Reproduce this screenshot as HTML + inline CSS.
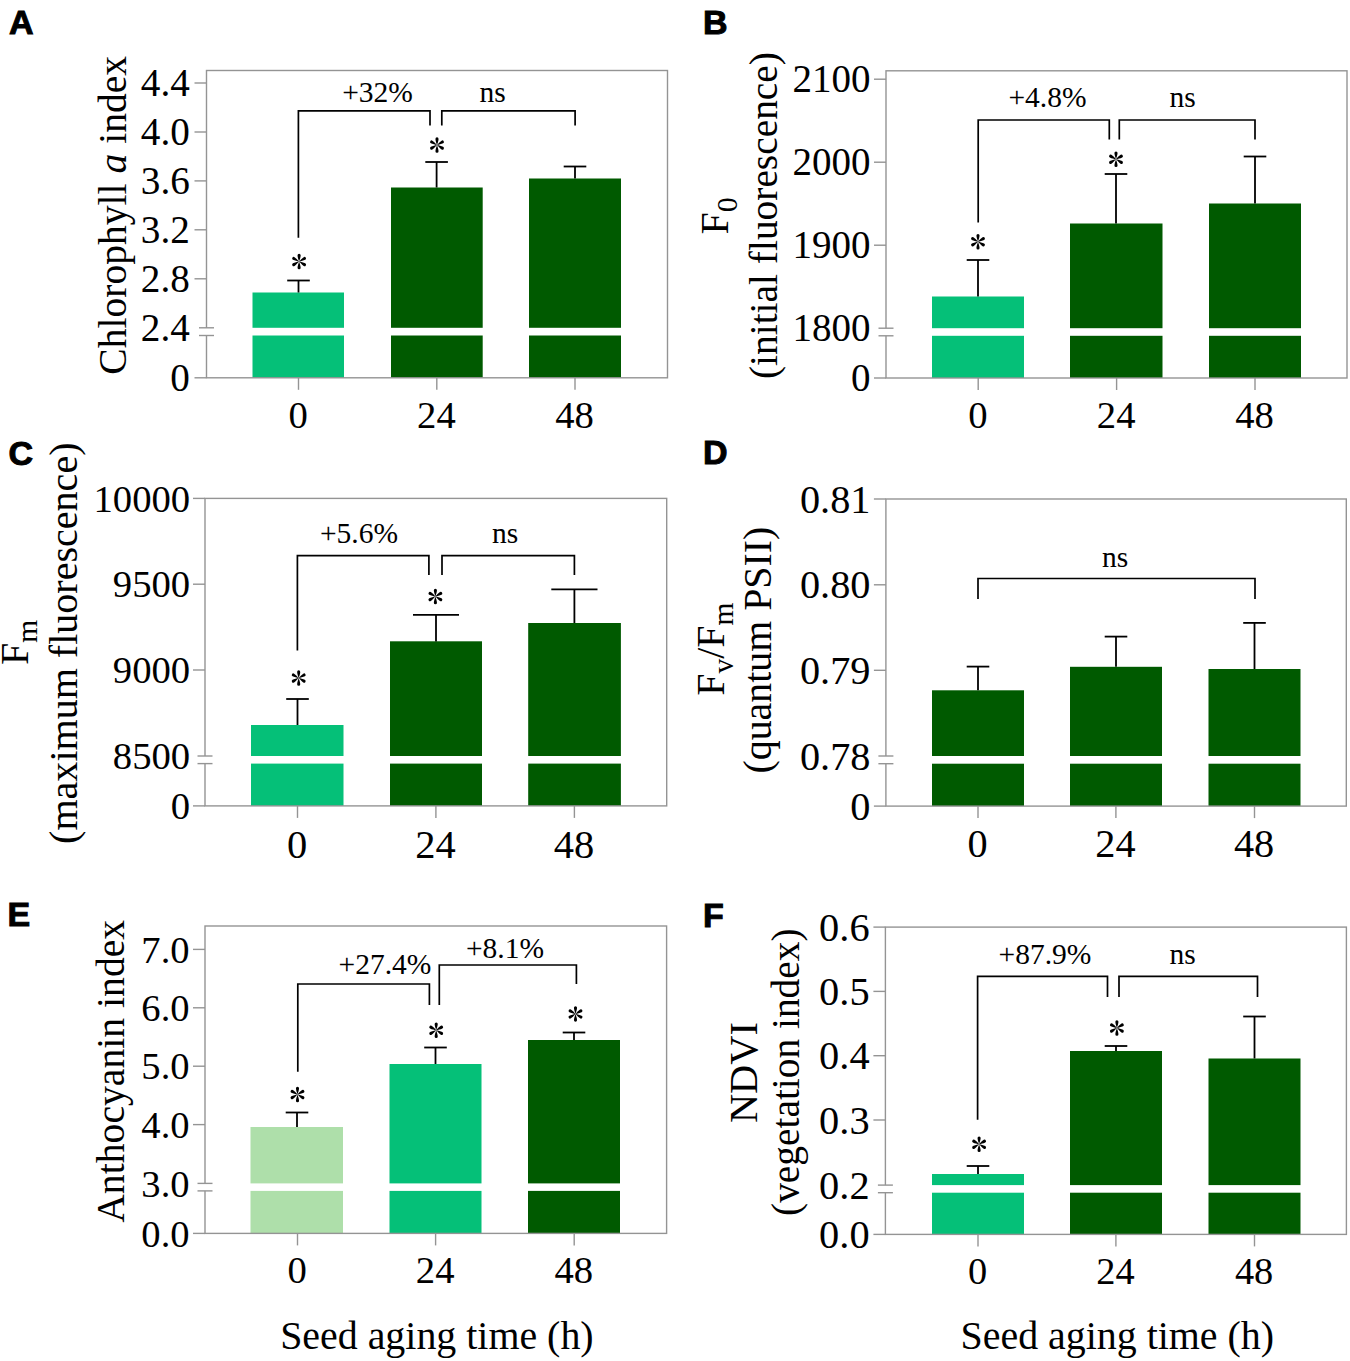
<!DOCTYPE html>
<html><head><meta charset="utf-8"><style>
html,body{margin:0;padding:0;background:#fff;}
svg{display:block;}
</style></head><body>
<svg width="1350" height="1361" viewBox="0 0 1350 1361">
<rect width="1350" height="1361" fill="#fff"/>
<rect x="252.5" y="292.5" width="91.5" height="85.30000000000001" fill="#05c078"/>
<rect x="391" y="187.5" width="91.69999999999999" height="190.3" fill="#005a00"/>
<rect x="529" y="178.5" width="92" height="199.3" fill="#005a00"/>
<rect x="206.5" y="70.5" width="461.0" height="307.3" fill="none" stroke="#949494" stroke-width="1.4"/>
<rect x="203.5" y="327.8" width="418.5" height="7.699999999999989" fill="#fff"/>
<line x1="199.0" y1="327.8" x2="214.0" y2="327.8" stroke="#949494" stroke-width="1.4"/>
<line x1="199.0" y1="335.5" x2="214.0" y2="335.5" stroke="#949494" stroke-width="1.4"/>
<line x1="194.5" y1="83" x2="206.5" y2="83" stroke="#949494" stroke-width="1.4"/>
<text x="189.8" y="96.31" font-size="39.2" text-anchor="end" font-family='"Liberation Serif", serif' >4.4</text>
<line x1="194.5" y1="132" x2="206.5" y2="132" stroke="#949494" stroke-width="1.4"/>
<text x="189.8" y="145.31" font-size="39.2" text-anchor="end" font-family='"Liberation Serif", serif' >4.0</text>
<line x1="194.5" y1="180.9" x2="206.5" y2="180.9" stroke="#949494" stroke-width="1.4"/>
<text x="189.8" y="194.21" font-size="39.2" text-anchor="end" font-family='"Liberation Serif", serif' >3.6</text>
<line x1="194.5" y1="229.8" x2="206.5" y2="229.8" stroke="#949494" stroke-width="1.4"/>
<text x="189.8" y="243.11" font-size="39.2" text-anchor="end" font-family='"Liberation Serif", serif' >3.2</text>
<line x1="194.5" y1="278.8" x2="206.5" y2="278.8" stroke="#949494" stroke-width="1.4"/>
<text x="189.8" y="292.11" font-size="39.2" text-anchor="end" font-family='"Liberation Serif", serif' >2.8</text>
<text x="189.8" y="341.11" font-size="39.2" text-anchor="end" font-family='"Liberation Serif", serif' >2.4</text>
<line x1="194.5" y1="377.8" x2="206.5" y2="377.8" stroke="#949494" stroke-width="1.4"/>
<text x="189.8" y="391.11" font-size="39.2" text-anchor="end" font-family='"Liberation Serif", serif' >0</text>
<line x1="298.5" y1="377.8" x2="298.5" y2="389.8" stroke="#949494" stroke-width="1.4"/>
<text x="298.1" y="427.6" font-size="38.7" text-anchor="middle" font-family='"Liberation Serif", serif' >0</text>
<line x1="436.8" y1="377.8" x2="436.8" y2="389.8" stroke="#949494" stroke-width="1.4"/>
<text x="436.4" y="427.6" font-size="38.7" text-anchor="middle" font-family='"Liberation Serif", serif' >24</text>
<line x1="575" y1="377.8" x2="575" y2="389.8" stroke="#949494" stroke-width="1.4"/>
<text x="574.6" y="427.6" font-size="38.7" text-anchor="middle" font-family='"Liberation Serif", serif' >48</text>
<line x1="298.5" y1="280.5" x2="298.5" y2="292.5" stroke="#000" stroke-width="1.8"/>
<line x1="287.2" y1="280.5" x2="309.8" y2="280.5" stroke="#000" stroke-width="1.8"/>
<line x1="436.6" y1="162" x2="436.6" y2="187.5" stroke="#000" stroke-width="1.8"/>
<line x1="425.3" y1="162" x2="447.90000000000003" y2="162" stroke="#000" stroke-width="1.8"/>
<line x1="575" y1="166.5" x2="575" y2="178.5" stroke="#000" stroke-width="1.8"/>
<line x1="563.7" y1="166.5" x2="586.3" y2="166.5" stroke="#000" stroke-width="1.8"/>
<g transform="translate(299.1,261.6)" fill="#000"><path d="M0,0 C-0.45,-1.8 -1.55,-4.2 -1.55,-6.2 A1.55,1.55 0 0 1 1.55,-6.2 C1.55,-4.2 0.45,-1.8 0,0 Z" transform="rotate(0)"/><path d="M0,0 C-0.45,-1.8 -1.55,-4.2 -1.55,-6.2 A1.55,1.55 0 0 1 1.55,-6.2 C1.55,-4.2 0.45,-1.8 0,0 Z" transform="rotate(60)"/><path d="M0,0 C-0.45,-1.8 -1.55,-4.2 -1.55,-6.2 A1.55,1.55 0 0 1 1.55,-6.2 C1.55,-4.2 0.45,-1.8 0,0 Z" transform="rotate(120)"/><path d="M0,0 C-0.45,-1.8 -1.55,-4.2 -1.55,-6.2 A1.55,1.55 0 0 1 1.55,-6.2 C1.55,-4.2 0.45,-1.8 0,0 Z" transform="rotate(180)"/><path d="M0,0 C-0.45,-1.8 -1.55,-4.2 -1.55,-6.2 A1.55,1.55 0 0 1 1.55,-6.2 C1.55,-4.2 0.45,-1.8 0,0 Z" transform="rotate(240)"/><path d="M0,0 C-0.45,-1.8 -1.55,-4.2 -1.55,-6.2 A1.55,1.55 0 0 1 1.55,-6.2 C1.55,-4.2 0.45,-1.8 0,0 Z" transform="rotate(300)"/></g>
<g transform="translate(437,145.1)" fill="#000"><path d="M0,0 C-0.45,-1.8 -1.55,-4.2 -1.55,-6.2 A1.55,1.55 0 0 1 1.55,-6.2 C1.55,-4.2 0.45,-1.8 0,0 Z" transform="rotate(0)"/><path d="M0,0 C-0.45,-1.8 -1.55,-4.2 -1.55,-6.2 A1.55,1.55 0 0 1 1.55,-6.2 C1.55,-4.2 0.45,-1.8 0,0 Z" transform="rotate(60)"/><path d="M0,0 C-0.45,-1.8 -1.55,-4.2 -1.55,-6.2 A1.55,1.55 0 0 1 1.55,-6.2 C1.55,-4.2 0.45,-1.8 0,0 Z" transform="rotate(120)"/><path d="M0,0 C-0.45,-1.8 -1.55,-4.2 -1.55,-6.2 A1.55,1.55 0 0 1 1.55,-6.2 C1.55,-4.2 0.45,-1.8 0,0 Z" transform="rotate(180)"/><path d="M0,0 C-0.45,-1.8 -1.55,-4.2 -1.55,-6.2 A1.55,1.55 0 0 1 1.55,-6.2 C1.55,-4.2 0.45,-1.8 0,0 Z" transform="rotate(240)"/><path d="M0,0 C-0.45,-1.8 -1.55,-4.2 -1.55,-6.2 A1.55,1.55 0 0 1 1.55,-6.2 C1.55,-4.2 0.45,-1.8 0,0 Z" transform="rotate(300)"/></g>
<path d="M298.4,237.7 V110.8 H430 V125.4" fill="none" stroke="#000" stroke-width="1.7"/>
<path d="M441.8,125.4 V110.8 H575.1 V125.4" fill="none" stroke="#000" stroke-width="1.7"/>
<text x="377.5" y="102.3" font-size="29.5" text-anchor="middle" font-family='"Liberation Serif", serif' >+32%</text>
<text x="492.5" y="102.3" font-size="29.5" text-anchor="middle" font-family='"Liberation Serif", serif' >ns</text>
<text transform="translate(126,215.3) rotate(-90)" font-size="39.6" text-anchor="middle" font-family='"Liberation Serif", serif'>Chlorophyll <tspan font-style="italic">a</tspan> index</text>
<text x="8.95" y="33.9" font-size="34" text-anchor="start" font-family='"Liberation Sans", sans-serif' font-weight="bold" stroke="#000" stroke-width="1">A</text>
<rect x="932" y="296.5" width="92" height="81.5" fill="#05c078"/>
<rect x="1070" y="223.5" width="92.5" height="154.5" fill="#005a00"/>
<rect x="1209" y="203.5" width="92" height="174.5" fill="#005a00"/>
<rect x="886" y="70.8" width="461" height="307.2" fill="none" stroke="#949494" stroke-width="1.4"/>
<rect x="883" y="328.2" width="419" height="7.600000000000023" fill="#fff"/>
<line x1="878.5" y1="328.2" x2="893.5" y2="328.2" stroke="#949494" stroke-width="1.4"/>
<line x1="878.5" y1="335.8" x2="893.5" y2="335.8" stroke="#949494" stroke-width="1.4"/>
<line x1="874" y1="79.2" x2="886" y2="79.2" stroke="#949494" stroke-width="1.4"/>
<text x="870.6" y="92.45" font-size="39.0" text-anchor="end" font-family='"Liberation Serif", serif' >2100</text>
<line x1="874" y1="162.2" x2="886" y2="162.2" stroke="#949494" stroke-width="1.4"/>
<text x="870.6" y="175.45" font-size="39.0" text-anchor="end" font-family='"Liberation Serif", serif' >2000</text>
<line x1="874" y1="245.2" x2="886" y2="245.2" stroke="#949494" stroke-width="1.4"/>
<text x="870.6" y="258.45" font-size="39.0" text-anchor="end" font-family='"Liberation Serif", serif' >1900</text>
<text x="870.6" y="341.45" font-size="39.0" text-anchor="end" font-family='"Liberation Serif", serif' >1800</text>
<line x1="874" y1="378" x2="886" y2="378" stroke="#949494" stroke-width="1.4"/>
<text x="870.6" y="391.25" font-size="39.0" text-anchor="end" font-family='"Liberation Serif", serif' >0</text>
<line x1="978.2" y1="378" x2="978.2" y2="390" stroke="#949494" stroke-width="1.4"/>
<text x="977.8" y="427.6" font-size="38.7" text-anchor="middle" font-family='"Liberation Serif", serif' >0</text>
<line x1="1116.6" y1="378" x2="1116.6" y2="390" stroke="#949494" stroke-width="1.4"/>
<text x="1116.2" y="427.6" font-size="38.7" text-anchor="middle" font-family='"Liberation Serif", serif' >24</text>
<line x1="1255" y1="378" x2="1255" y2="390" stroke="#949494" stroke-width="1.4"/>
<text x="1254.6" y="427.6" font-size="38.7" text-anchor="middle" font-family='"Liberation Serif", serif' >48</text>
<line x1="978" y1="260" x2="978" y2="296.5" stroke="#000" stroke-width="1.8"/>
<line x1="966.7" y1="260" x2="989.3" y2="260" stroke="#000" stroke-width="1.8"/>
<line x1="1116" y1="174" x2="1116" y2="223.5" stroke="#000" stroke-width="1.8"/>
<line x1="1104.7" y1="174" x2="1127.3" y2="174" stroke="#000" stroke-width="1.8"/>
<line x1="1255" y1="156.5" x2="1255" y2="203.5" stroke="#000" stroke-width="1.8"/>
<line x1="1243.7" y1="156.5" x2="1266.3" y2="156.5" stroke="#000" stroke-width="1.8"/>
<g transform="translate(978,241.7)" fill="#000"><path d="M0,0 C-0.45,-1.8 -1.55,-4.2 -1.55,-6.2 A1.55,1.55 0 0 1 1.55,-6.2 C1.55,-4.2 0.45,-1.8 0,0 Z" transform="rotate(0)"/><path d="M0,0 C-0.45,-1.8 -1.55,-4.2 -1.55,-6.2 A1.55,1.55 0 0 1 1.55,-6.2 C1.55,-4.2 0.45,-1.8 0,0 Z" transform="rotate(60)"/><path d="M0,0 C-0.45,-1.8 -1.55,-4.2 -1.55,-6.2 A1.55,1.55 0 0 1 1.55,-6.2 C1.55,-4.2 0.45,-1.8 0,0 Z" transform="rotate(120)"/><path d="M0,0 C-0.45,-1.8 -1.55,-4.2 -1.55,-6.2 A1.55,1.55 0 0 1 1.55,-6.2 C1.55,-4.2 0.45,-1.8 0,0 Z" transform="rotate(180)"/><path d="M0,0 C-0.45,-1.8 -1.55,-4.2 -1.55,-6.2 A1.55,1.55 0 0 1 1.55,-6.2 C1.55,-4.2 0.45,-1.8 0,0 Z" transform="rotate(240)"/><path d="M0,0 C-0.45,-1.8 -1.55,-4.2 -1.55,-6.2 A1.55,1.55 0 0 1 1.55,-6.2 C1.55,-4.2 0.45,-1.8 0,0 Z" transform="rotate(300)"/></g>
<g transform="translate(1116,159.3)" fill="#000"><path d="M0,0 C-0.45,-1.8 -1.55,-4.2 -1.55,-6.2 A1.55,1.55 0 0 1 1.55,-6.2 C1.55,-4.2 0.45,-1.8 0,0 Z" transform="rotate(0)"/><path d="M0,0 C-0.45,-1.8 -1.55,-4.2 -1.55,-6.2 A1.55,1.55 0 0 1 1.55,-6.2 C1.55,-4.2 0.45,-1.8 0,0 Z" transform="rotate(60)"/><path d="M0,0 C-0.45,-1.8 -1.55,-4.2 -1.55,-6.2 A1.55,1.55 0 0 1 1.55,-6.2 C1.55,-4.2 0.45,-1.8 0,0 Z" transform="rotate(120)"/><path d="M0,0 C-0.45,-1.8 -1.55,-4.2 -1.55,-6.2 A1.55,1.55 0 0 1 1.55,-6.2 C1.55,-4.2 0.45,-1.8 0,0 Z" transform="rotate(180)"/><path d="M0,0 C-0.45,-1.8 -1.55,-4.2 -1.55,-6.2 A1.55,1.55 0 0 1 1.55,-6.2 C1.55,-4.2 0.45,-1.8 0,0 Z" transform="rotate(240)"/><path d="M0,0 C-0.45,-1.8 -1.55,-4.2 -1.55,-6.2 A1.55,1.55 0 0 1 1.55,-6.2 C1.55,-4.2 0.45,-1.8 0,0 Z" transform="rotate(300)"/></g>
<path d="M978.2,222.6 V120 H1109.3 V139.6" fill="none" stroke="#000" stroke-width="1.7"/>
<path d="M1119.3,139.6 V120 H1255 V139.6" fill="none" stroke="#000" stroke-width="1.7"/>
<text x="1047.5" y="107" font-size="29.5" text-anchor="middle" font-family='"Liberation Serif", serif' >+4.8%</text>
<text x="1182.5" y="107" font-size="29.5" text-anchor="middle" font-family='"Liberation Serif", serif' >ns</text>
<text transform="translate(728.3,234.5) rotate(-90)" font-size="40" text-anchor="start" font-family='"Liberation Serif", serif'>F<tspan font-size="30" dy="8.6">0</tspan></text>
<text transform="translate(776.6,215.55) rotate(-90)" font-size="39.4" text-anchor="middle" font-family='"Liberation Serif", serif'>(initial fluorescence)</text>
<text x="703.12" y="33.9" font-size="34" text-anchor="start" font-family='"Liberation Sans", sans-serif' font-weight="bold" stroke="#000" stroke-width="1">B</text>
<rect x="251" y="725" width="92.5" height="80.89999999999998" fill="#05c078"/>
<rect x="390" y="641.3" width="92" height="164.60000000000002" fill="#005a00"/>
<rect x="528.2" y="623" width="92.69999999999993" height="182.89999999999998" fill="#005a00"/>
<rect x="205" y="498.4" width="461.70000000000005" height="307.5" fill="none" stroke="#949494" stroke-width="1.4"/>
<rect x="202" y="756" width="419.9" height="7.600000000000023" fill="#fff"/>
<line x1="197.5" y1="756" x2="212.5" y2="756" stroke="#949494" stroke-width="1.4"/>
<line x1="197.5" y1="763.6" x2="212.5" y2="763.6" stroke="#949494" stroke-width="1.4"/>
<line x1="193" y1="498.4" x2="205" y2="498.4" stroke="#949494" stroke-width="1.4"/>
<text x="190.2" y="511.55" font-size="38.7" text-anchor="end" font-family='"Liberation Serif", serif' >10000</text>
<line x1="193" y1="584.2" x2="205" y2="584.2" stroke="#949494" stroke-width="1.4"/>
<text x="190.2" y="597.35" font-size="38.7" text-anchor="end" font-family='"Liberation Serif", serif' >9500</text>
<line x1="193" y1="670" x2="205" y2="670" stroke="#949494" stroke-width="1.4"/>
<text x="190.2" y="683.15" font-size="38.7" text-anchor="end" font-family='"Liberation Serif", serif' >9000</text>
<text x="190.2" y="769.15" font-size="38.7" text-anchor="end" font-family='"Liberation Serif", serif' >8500</text>
<line x1="193" y1="805.9" x2="205" y2="805.9" stroke="#949494" stroke-width="1.4"/>
<text x="190.2" y="819.05" font-size="38.7" text-anchor="end" font-family='"Liberation Serif", serif' >0</text>
<line x1="297.5" y1="805.9" x2="297.5" y2="817.9" stroke="#949494" stroke-width="1.4"/>
<text x="297.1" y="857.5" font-size="40.5" text-anchor="middle" font-family='"Liberation Serif", serif' >0</text>
<line x1="435.9" y1="805.9" x2="435.9" y2="817.9" stroke="#949494" stroke-width="1.4"/>
<text x="435.5" y="857.5" font-size="40.5" text-anchor="middle" font-family='"Liberation Serif", serif' >24</text>
<line x1="574.4" y1="805.9" x2="574.4" y2="817.9" stroke="#949494" stroke-width="1.4"/>
<text x="574.0" y="857.5" font-size="40.5" text-anchor="middle" font-family='"Liberation Serif", serif' >48</text>
<line x1="297.5" y1="699" x2="297.5" y2="725" stroke="#000" stroke-width="1.8"/>
<line x1="286.2" y1="699" x2="308.8" y2="699" stroke="#000" stroke-width="1.8"/>
<line x1="436" y1="614.8" x2="436" y2="641.5" stroke="#000" stroke-width="1.8"/>
<line x1="413" y1="614.8" x2="459" y2="614.8" stroke="#000" stroke-width="1.8"/>
<line x1="574.4" y1="589.3" x2="574.4" y2="623" stroke="#000" stroke-width="1.8"/>
<line x1="551.3" y1="589.3" x2="597.5" y2="589.3" stroke="#000" stroke-width="1.8"/>
<g transform="translate(298.7,678.1)" fill="#000"><path d="M0,0 C-0.45,-1.8 -1.55,-4.2 -1.55,-6.2 A1.55,1.55 0 0 1 1.55,-6.2 C1.55,-4.2 0.45,-1.8 0,0 Z" transform="rotate(0)"/><path d="M0,0 C-0.45,-1.8 -1.55,-4.2 -1.55,-6.2 A1.55,1.55 0 0 1 1.55,-6.2 C1.55,-4.2 0.45,-1.8 0,0 Z" transform="rotate(60)"/><path d="M0,0 C-0.45,-1.8 -1.55,-4.2 -1.55,-6.2 A1.55,1.55 0 0 1 1.55,-6.2 C1.55,-4.2 0.45,-1.8 0,0 Z" transform="rotate(120)"/><path d="M0,0 C-0.45,-1.8 -1.55,-4.2 -1.55,-6.2 A1.55,1.55 0 0 1 1.55,-6.2 C1.55,-4.2 0.45,-1.8 0,0 Z" transform="rotate(180)"/><path d="M0,0 C-0.45,-1.8 -1.55,-4.2 -1.55,-6.2 A1.55,1.55 0 0 1 1.55,-6.2 C1.55,-4.2 0.45,-1.8 0,0 Z" transform="rotate(240)"/><path d="M0,0 C-0.45,-1.8 -1.55,-4.2 -1.55,-6.2 A1.55,1.55 0 0 1 1.55,-6.2 C1.55,-4.2 0.45,-1.8 0,0 Z" transform="rotate(300)"/></g>
<g transform="translate(435.4,596.5)" fill="#000"><path d="M0,0 C-0.45,-1.8 -1.55,-4.2 -1.55,-6.2 A1.55,1.55 0 0 1 1.55,-6.2 C1.55,-4.2 0.45,-1.8 0,0 Z" transform="rotate(0)"/><path d="M0,0 C-0.45,-1.8 -1.55,-4.2 -1.55,-6.2 A1.55,1.55 0 0 1 1.55,-6.2 C1.55,-4.2 0.45,-1.8 0,0 Z" transform="rotate(60)"/><path d="M0,0 C-0.45,-1.8 -1.55,-4.2 -1.55,-6.2 A1.55,1.55 0 0 1 1.55,-6.2 C1.55,-4.2 0.45,-1.8 0,0 Z" transform="rotate(120)"/><path d="M0,0 C-0.45,-1.8 -1.55,-4.2 -1.55,-6.2 A1.55,1.55 0 0 1 1.55,-6.2 C1.55,-4.2 0.45,-1.8 0,0 Z" transform="rotate(180)"/><path d="M0,0 C-0.45,-1.8 -1.55,-4.2 -1.55,-6.2 A1.55,1.55 0 0 1 1.55,-6.2 C1.55,-4.2 0.45,-1.8 0,0 Z" transform="rotate(240)"/><path d="M0,0 C-0.45,-1.8 -1.55,-4.2 -1.55,-6.2 A1.55,1.55 0 0 1 1.55,-6.2 C1.55,-4.2 0.45,-1.8 0,0 Z" transform="rotate(300)"/></g>
<path d="M297.4,650.4 V555.6 H428.9 V575" fill="none" stroke="#000" stroke-width="1.7"/>
<path d="M442,575 V555.6 H574.4 V575" fill="none" stroke="#000" stroke-width="1.7"/>
<text x="359" y="542.6" font-size="29.5" text-anchor="middle" font-family='"Liberation Serif", serif' >+5.6%</text>
<text x="505" y="542.6" font-size="29.5" text-anchor="middle" font-family='"Liberation Serif", serif' >ns</text>
<text transform="translate(28.4,665.1) rotate(-90)" font-size="40" text-anchor="start" font-family='"Liberation Serif", serif'>F<tspan font-size="29.5" dy="9">m</tspan></text>
<text transform="translate(77.3,643.2) rotate(-90)" font-size="40.06" text-anchor="middle" font-family='"Liberation Serif", serif'>(maximum fluorescence)</text>
<text x="8.41" y="464.5" font-size="34" text-anchor="start" font-family='"Liberation Sans", sans-serif' font-weight="bold" stroke="#000" stroke-width="1">C</text>
<rect x="932" y="690.3" width="92" height="115.80000000000007" fill="#005a00"/>
<rect x="1070" y="666.8" width="92" height="139.30000000000007" fill="#005a00"/>
<rect x="1208.5" y="669" width="92.0" height="137.10000000000002" fill="#005a00"/>
<rect x="885.9" y="499" width="460.4" height="307.1" fill="none" stroke="#949494" stroke-width="1.4"/>
<rect x="882.9" y="756" width="418.6" height="7.7000000000000455" fill="#fff"/>
<line x1="878.4" y1="756" x2="893.4" y2="756" stroke="#949494" stroke-width="1.4"/>
<line x1="878.4" y1="763.7" x2="893.4" y2="763.7" stroke="#949494" stroke-width="1.4"/>
<line x1="873.9" y1="499" x2="885.9" y2="499" stroke="#949494" stroke-width="1.4"/>
<text x="870.5" y="512.68" font-size="40.3" text-anchor="end" font-family='"Liberation Serif", serif' >0.81</text>
<line x1="873.9" y1="584.8" x2="885.9" y2="584.8" stroke="#949494" stroke-width="1.4"/>
<text x="870.5" y="598.48" font-size="40.3" text-anchor="end" font-family='"Liberation Serif", serif' >0.80</text>
<line x1="873.9" y1="670.3" x2="885.9" y2="670.3" stroke="#949494" stroke-width="1.4"/>
<text x="870.5" y="683.98" font-size="40.3" text-anchor="end" font-family='"Liberation Serif", serif' >0.79</text>
<text x="870.5" y="769.68" font-size="40.3" text-anchor="end" font-family='"Liberation Serif", serif' >0.78</text>
<line x1="873.9" y1="806.1" x2="885.9" y2="806.1" stroke="#949494" stroke-width="1.4"/>
<text x="870.5" y="819.78" font-size="40.3" text-anchor="end" font-family='"Liberation Serif", serif' >0</text>
<line x1="978" y1="806.1" x2="978" y2="818.1" stroke="#949494" stroke-width="1.4"/>
<text x="977.6" y="857.3" font-size="40.3" text-anchor="middle" font-family='"Liberation Serif", serif' >0</text>
<line x1="1115.9" y1="806.1" x2="1115.9" y2="818.1" stroke="#949494" stroke-width="1.4"/>
<text x="1115.5" y="857.3" font-size="40.3" text-anchor="middle" font-family='"Liberation Serif", serif' >24</text>
<line x1="1254.5" y1="806.1" x2="1254.5" y2="818.1" stroke="#949494" stroke-width="1.4"/>
<text x="1254.1" y="857.3" font-size="40.3" text-anchor="middle" font-family='"Liberation Serif", serif' >48</text>
<line x1="978" y1="666.6" x2="978" y2="690.3" stroke="#000" stroke-width="1.8"/>
<line x1="966.7" y1="666.6" x2="989.3" y2="666.6" stroke="#000" stroke-width="1.8"/>
<line x1="1116" y1="636.6" x2="1116" y2="666.8" stroke="#000" stroke-width="1.8"/>
<line x1="1104.7" y1="636.6" x2="1127.3" y2="636.6" stroke="#000" stroke-width="1.8"/>
<line x1="1254.5" y1="622.9" x2="1254.5" y2="669" stroke="#000" stroke-width="1.8"/>
<line x1="1243.2" y1="622.9" x2="1265.8" y2="622.9" stroke="#000" stroke-width="1.8"/>
<path d="M978,599 V578.5 H1255 V599" fill="none" stroke="#000" stroke-width="1.7"/>
<text x="1115" y="567" font-size="29.5" text-anchor="middle" font-family='"Liberation Serif", serif' >ns</text>
<text transform="translate(724.3,695.8) rotate(-90)" font-size="40" text-anchor="start" font-family='"Liberation Serif", serif'>F<tspan font-size="29.5" dy="8.8">v</tspan><tspan dy="-8.8">/F</tspan><tspan font-size="29.5" dy="8.8">m</tspan></text>
<text transform="translate(770.8,650.1) rotate(-90)" font-size="39.86" text-anchor="middle" font-family='"Liberation Serif", serif'>(quantum PSII)</text>
<text x="703.12" y="464.1" font-size="34" text-anchor="start" font-family='"Liberation Sans", sans-serif' font-weight="bold" stroke="#000" stroke-width="1">D</text>
<rect x="250.5" y="1127" width="92.5" height="106.40000000000009" fill="#aedfaa"/>
<rect x="389.5" y="1064" width="92.0" height="169.4000000000001" fill="#05c078"/>
<rect x="528" y="1040" width="92" height="193.4000000000001" fill="#005a00"/>
<rect x="205" y="926" width="461.6" height="307.4000000000001" fill="none" stroke="#949494" stroke-width="1.4"/>
<rect x="202" y="1183.4" width="419" height="7.5" fill="#fff"/>
<line x1="197.5" y1="1183.4" x2="212.5" y2="1183.4" stroke="#949494" stroke-width="1.4"/>
<line x1="197.5" y1="1190.9" x2="212.5" y2="1190.9" stroke="#949494" stroke-width="1.4"/>
<line x1="193" y1="949.4" x2="205" y2="949.4" stroke="#949494" stroke-width="1.4"/>
<text x="189.6" y="962.52" font-size="38.6" text-anchor="end" font-family='"Liberation Serif", serif' >7.0</text>
<line x1="193" y1="1007.8" x2="205" y2="1007.8" stroke="#949494" stroke-width="1.4"/>
<text x="189.6" y="1020.92" font-size="38.6" text-anchor="end" font-family='"Liberation Serif", serif' >6.0</text>
<line x1="193" y1="1066.2" x2="205" y2="1066.2" stroke="#949494" stroke-width="1.4"/>
<text x="189.6" y="1079.32" font-size="38.6" text-anchor="end" font-family='"Liberation Serif", serif' >5.0</text>
<line x1="193" y1="1124.6" x2="205" y2="1124.6" stroke="#949494" stroke-width="1.4"/>
<text x="189.6" y="1137.72" font-size="38.6" text-anchor="end" font-family='"Liberation Serif", serif' >4.0</text>
<text x="189.6" y="1196.52" font-size="38.6" text-anchor="end" font-family='"Liberation Serif", serif' >3.0</text>
<line x1="193" y1="1233.4" x2="205" y2="1233.4" stroke="#949494" stroke-width="1.4"/>
<text x="189.6" y="1246.52" font-size="38.6" text-anchor="end" font-family='"Liberation Serif", serif' >0.0</text>
<line x1="297.5" y1="1233.4" x2="297.5" y2="1245.4" stroke="#949494" stroke-width="1.4"/>
<text x="297.1" y="1283" font-size="38.7" text-anchor="middle" font-family='"Liberation Serif", serif' >0</text>
<line x1="435.6" y1="1233.4" x2="435.6" y2="1245.4" stroke="#949494" stroke-width="1.4"/>
<text x="435.2" y="1283" font-size="38.7" text-anchor="middle" font-family='"Liberation Serif", serif' >24</text>
<line x1="574.2" y1="1233.4" x2="574.2" y2="1245.4" stroke="#949494" stroke-width="1.4"/>
<text x="573.8" y="1283" font-size="38.7" text-anchor="middle" font-family='"Liberation Serif", serif' >48</text>
<line x1="297" y1="1112.5" x2="297" y2="1127" stroke="#000" stroke-width="1.8"/>
<line x1="285.7" y1="1112.5" x2="308.3" y2="1112.5" stroke="#000" stroke-width="1.8"/>
<line x1="435.5" y1="1047.5" x2="435.5" y2="1064" stroke="#000" stroke-width="1.8"/>
<line x1="424.2" y1="1047.5" x2="446.8" y2="1047.5" stroke="#000" stroke-width="1.8"/>
<line x1="574" y1="1032.5" x2="574" y2="1040" stroke="#000" stroke-width="1.8"/>
<line x1="562.7" y1="1032.5" x2="585.3" y2="1032.5" stroke="#000" stroke-width="1.8"/>
<g transform="translate(297.5,1094.5)" fill="#000"><path d="M0,0 C-0.45,-1.8 -1.55,-4.2 -1.55,-6.2 A1.55,1.55 0 0 1 1.55,-6.2 C1.55,-4.2 0.45,-1.8 0,0 Z" transform="rotate(0)"/><path d="M0,0 C-0.45,-1.8 -1.55,-4.2 -1.55,-6.2 A1.55,1.55 0 0 1 1.55,-6.2 C1.55,-4.2 0.45,-1.8 0,0 Z" transform="rotate(60)"/><path d="M0,0 C-0.45,-1.8 -1.55,-4.2 -1.55,-6.2 A1.55,1.55 0 0 1 1.55,-6.2 C1.55,-4.2 0.45,-1.8 0,0 Z" transform="rotate(120)"/><path d="M0,0 C-0.45,-1.8 -1.55,-4.2 -1.55,-6.2 A1.55,1.55 0 0 1 1.55,-6.2 C1.55,-4.2 0.45,-1.8 0,0 Z" transform="rotate(180)"/><path d="M0,0 C-0.45,-1.8 -1.55,-4.2 -1.55,-6.2 A1.55,1.55 0 0 1 1.55,-6.2 C1.55,-4.2 0.45,-1.8 0,0 Z" transform="rotate(240)"/><path d="M0,0 C-0.45,-1.8 -1.55,-4.2 -1.55,-6.2 A1.55,1.55 0 0 1 1.55,-6.2 C1.55,-4.2 0.45,-1.8 0,0 Z" transform="rotate(300)"/></g>
<g transform="translate(436.2,1030.3)" fill="#000"><path d="M0,0 C-0.45,-1.8 -1.55,-4.2 -1.55,-6.2 A1.55,1.55 0 0 1 1.55,-6.2 C1.55,-4.2 0.45,-1.8 0,0 Z" transform="rotate(0)"/><path d="M0,0 C-0.45,-1.8 -1.55,-4.2 -1.55,-6.2 A1.55,1.55 0 0 1 1.55,-6.2 C1.55,-4.2 0.45,-1.8 0,0 Z" transform="rotate(60)"/><path d="M0,0 C-0.45,-1.8 -1.55,-4.2 -1.55,-6.2 A1.55,1.55 0 0 1 1.55,-6.2 C1.55,-4.2 0.45,-1.8 0,0 Z" transform="rotate(120)"/><path d="M0,0 C-0.45,-1.8 -1.55,-4.2 -1.55,-6.2 A1.55,1.55 0 0 1 1.55,-6.2 C1.55,-4.2 0.45,-1.8 0,0 Z" transform="rotate(180)"/><path d="M0,0 C-0.45,-1.8 -1.55,-4.2 -1.55,-6.2 A1.55,1.55 0 0 1 1.55,-6.2 C1.55,-4.2 0.45,-1.8 0,0 Z" transform="rotate(240)"/><path d="M0,0 C-0.45,-1.8 -1.55,-4.2 -1.55,-6.2 A1.55,1.55 0 0 1 1.55,-6.2 C1.55,-4.2 0.45,-1.8 0,0 Z" transform="rotate(300)"/></g>
<g transform="translate(575.5,1013.9)" fill="#000"><path d="M0,0 C-0.45,-1.8 -1.55,-4.2 -1.55,-6.2 A1.55,1.55 0 0 1 1.55,-6.2 C1.55,-4.2 0.45,-1.8 0,0 Z" transform="rotate(0)"/><path d="M0,0 C-0.45,-1.8 -1.55,-4.2 -1.55,-6.2 A1.55,1.55 0 0 1 1.55,-6.2 C1.55,-4.2 0.45,-1.8 0,0 Z" transform="rotate(60)"/><path d="M0,0 C-0.45,-1.8 -1.55,-4.2 -1.55,-6.2 A1.55,1.55 0 0 1 1.55,-6.2 C1.55,-4.2 0.45,-1.8 0,0 Z" transform="rotate(120)"/><path d="M0,0 C-0.45,-1.8 -1.55,-4.2 -1.55,-6.2 A1.55,1.55 0 0 1 1.55,-6.2 C1.55,-4.2 0.45,-1.8 0,0 Z" transform="rotate(180)"/><path d="M0,0 C-0.45,-1.8 -1.55,-4.2 -1.55,-6.2 A1.55,1.55 0 0 1 1.55,-6.2 C1.55,-4.2 0.45,-1.8 0,0 Z" transform="rotate(240)"/><path d="M0,0 C-0.45,-1.8 -1.55,-4.2 -1.55,-6.2 A1.55,1.55 0 0 1 1.55,-6.2 C1.55,-4.2 0.45,-1.8 0,0 Z" transform="rotate(300)"/></g>
<path d="M297.8,1071.8 V984 H429.4 V1005.1" fill="none" stroke="#000" stroke-width="1.7"/>
<path d="M439.3,1005.1 V965 H576.4 V984" fill="none" stroke="#000" stroke-width="1.7"/>
<text x="385" y="974" font-size="29.5" text-anchor="middle" font-family='"Liberation Serif", serif' >+27.4%</text>
<text x="505" y="958" font-size="29.5" text-anchor="middle" font-family='"Liberation Serif", serif' >+8.1%</text>
<text transform="translate(123.6,1071.3) rotate(-90)" font-size="39.68" text-anchor="middle" font-family='"Liberation Serif", serif'>Anthocyanin index</text>
<text x="7.52" y="926.3" font-size="34" text-anchor="start" font-family='"Liberation Sans", sans-serif' font-weight="bold" stroke="#000" stroke-width="1">E</text>
<rect x="932" y="1174" width="92" height="60.40000000000009" fill="#05c078"/>
<rect x="1070" y="1051" width="92" height="183.4000000000001" fill="#005a00"/>
<rect x="1208.5" y="1058.5" width="92.0" height="175.9000000000001" fill="#005a00"/>
<rect x="885.4" y="927.1" width="461.0000000000001" height="307.30000000000007" fill="none" stroke="#949494" stroke-width="1.4"/>
<rect x="882.4" y="1185.1" width="419.1" height="7.600000000000136" fill="#fff"/>
<line x1="877.9" y1="1185.1" x2="892.9" y2="1185.1" stroke="#949494" stroke-width="1.4"/>
<line x1="877.9" y1="1192.7" x2="892.9" y2="1192.7" stroke="#949494" stroke-width="1.4"/>
<line x1="873.4" y1="927.1" x2="885.4" y2="927.1" stroke="#949494" stroke-width="1.4"/>
<text x="869.6" y="940.81" font-size="40.4" text-anchor="end" font-family='"Liberation Serif", serif' >0.6</text>
<line x1="873.4" y1="991.4" x2="885.4" y2="991.4" stroke="#949494" stroke-width="1.4"/>
<text x="869.6" y="1005.11" font-size="40.4" text-anchor="end" font-family='"Liberation Serif", serif' >0.5</text>
<line x1="873.4" y1="1055.7" x2="885.4" y2="1055.7" stroke="#949494" stroke-width="1.4"/>
<text x="869.6" y="1069.41" font-size="40.4" text-anchor="end" font-family='"Liberation Serif", serif' >0.4</text>
<line x1="873.4" y1="1120" x2="885.4" y2="1120" stroke="#949494" stroke-width="1.4"/>
<text x="869.6" y="1133.71" font-size="40.4" text-anchor="end" font-family='"Liberation Serif", serif' >0.3</text>
<text x="869.6" y="1198.81" font-size="40.4" text-anchor="end" font-family='"Liberation Serif", serif' >0.2</text>
<line x1="873.4" y1="1234.4" x2="885.4" y2="1234.4" stroke="#949494" stroke-width="1.4"/>
<text x="869.6" y="1248.11" font-size="40.4" text-anchor="end" font-family='"Liberation Serif", serif' >0.0</text>
<line x1="978" y1="1234.4" x2="978" y2="1246.4" stroke="#949494" stroke-width="1.4"/>
<text x="977.6" y="1283.8" font-size="38.4" text-anchor="middle" font-family='"Liberation Serif", serif' >0</text>
<line x1="1115.9" y1="1234.4" x2="1115.9" y2="1246.4" stroke="#949494" stroke-width="1.4"/>
<text x="1115.5" y="1283.8" font-size="38.4" text-anchor="middle" font-family='"Liberation Serif", serif' >24</text>
<line x1="1254.5" y1="1234.4" x2="1254.5" y2="1246.4" stroke="#949494" stroke-width="1.4"/>
<text x="1254.1" y="1283.8" font-size="38.4" text-anchor="middle" font-family='"Liberation Serif", serif' >48</text>
<line x1="978" y1="1166" x2="978" y2="1174" stroke="#000" stroke-width="1.8"/>
<line x1="966.7" y1="1166" x2="989.3" y2="1166" stroke="#000" stroke-width="1.8"/>
<line x1="1116" y1="1046" x2="1116" y2="1051" stroke="#000" stroke-width="1.8"/>
<line x1="1104.7" y1="1046" x2="1127.3" y2="1046" stroke="#000" stroke-width="1.8"/>
<line x1="1254.5" y1="1016.5" x2="1254.5" y2="1058.5" stroke="#000" stroke-width="1.8"/>
<line x1="1243.2" y1="1016.5" x2="1265.8" y2="1016.5" stroke="#000" stroke-width="1.8"/>
<g transform="translate(979.1,1144.3)" fill="#000"><path d="M0,0 C-0.45,-1.8 -1.55,-4.2 -1.55,-6.2 A1.55,1.55 0 0 1 1.55,-6.2 C1.55,-4.2 0.45,-1.8 0,0 Z" transform="rotate(0)"/><path d="M0,0 C-0.45,-1.8 -1.55,-4.2 -1.55,-6.2 A1.55,1.55 0 0 1 1.55,-6.2 C1.55,-4.2 0.45,-1.8 0,0 Z" transform="rotate(60)"/><path d="M0,0 C-0.45,-1.8 -1.55,-4.2 -1.55,-6.2 A1.55,1.55 0 0 1 1.55,-6.2 C1.55,-4.2 0.45,-1.8 0,0 Z" transform="rotate(120)"/><path d="M0,0 C-0.45,-1.8 -1.55,-4.2 -1.55,-6.2 A1.55,1.55 0 0 1 1.55,-6.2 C1.55,-4.2 0.45,-1.8 0,0 Z" transform="rotate(180)"/><path d="M0,0 C-0.45,-1.8 -1.55,-4.2 -1.55,-6.2 A1.55,1.55 0 0 1 1.55,-6.2 C1.55,-4.2 0.45,-1.8 0,0 Z" transform="rotate(240)"/><path d="M0,0 C-0.45,-1.8 -1.55,-4.2 -1.55,-6.2 A1.55,1.55 0 0 1 1.55,-6.2 C1.55,-4.2 0.45,-1.8 0,0 Z" transform="rotate(300)"/></g>
<g transform="translate(1116.9,1028)" fill="#000"><path d="M0,0 C-0.45,-1.8 -1.55,-4.2 -1.55,-6.2 A1.55,1.55 0 0 1 1.55,-6.2 C1.55,-4.2 0.45,-1.8 0,0 Z" transform="rotate(0)"/><path d="M0,0 C-0.45,-1.8 -1.55,-4.2 -1.55,-6.2 A1.55,1.55 0 0 1 1.55,-6.2 C1.55,-4.2 0.45,-1.8 0,0 Z" transform="rotate(60)"/><path d="M0,0 C-0.45,-1.8 -1.55,-4.2 -1.55,-6.2 A1.55,1.55 0 0 1 1.55,-6.2 C1.55,-4.2 0.45,-1.8 0,0 Z" transform="rotate(120)"/><path d="M0,0 C-0.45,-1.8 -1.55,-4.2 -1.55,-6.2 A1.55,1.55 0 0 1 1.55,-6.2 C1.55,-4.2 0.45,-1.8 0,0 Z" transform="rotate(180)"/><path d="M0,0 C-0.45,-1.8 -1.55,-4.2 -1.55,-6.2 A1.55,1.55 0 0 1 1.55,-6.2 C1.55,-4.2 0.45,-1.8 0,0 Z" transform="rotate(240)"/><path d="M0,0 C-0.45,-1.8 -1.55,-4.2 -1.55,-6.2 A1.55,1.55 0 0 1 1.55,-6.2 C1.55,-4.2 0.45,-1.8 0,0 Z" transform="rotate(300)"/></g>
<path d="M977.6,1119.7 V976.3 H1107.5 V997" fill="none" stroke="#000" stroke-width="1.7"/>
<path d="M1119,997 V976.3 H1257.5 V997" fill="none" stroke="#000" stroke-width="1.7"/>
<text x="1045" y="964" font-size="29.5" text-anchor="middle" font-family='"Liberation Serif", serif' >+87.9%</text>
<text x="1182.5" y="964" font-size="29.5" text-anchor="middle" font-family='"Liberation Serif", serif' >ns</text>
<text transform="translate(756.5,1072.6) rotate(-90)" font-size="40.4" text-anchor="middle" font-family='"Liberation Serif", serif'>NDVI</text>
<text transform="translate(799,1072.2) rotate(-90)" font-size="39.36" text-anchor="middle" font-family='"Liberation Serif", serif'>(vegetation index)</text>
<text x="703.12" y="926.5" font-size="34" text-anchor="start" font-family='"Liberation Sans", sans-serif' font-weight="bold" stroke="#000" stroke-width="1">F</text>
<text x="436.9" y="1348.7" font-size="39.9" text-anchor="middle" font-family='"Liberation Serif", serif' >Seed aging time (h)</text>
<text x="1117.3" y="1348.7" font-size="39.9" text-anchor="middle" font-family='"Liberation Serif", serif' >Seed aging time (h)</text>
</svg></body></html>
